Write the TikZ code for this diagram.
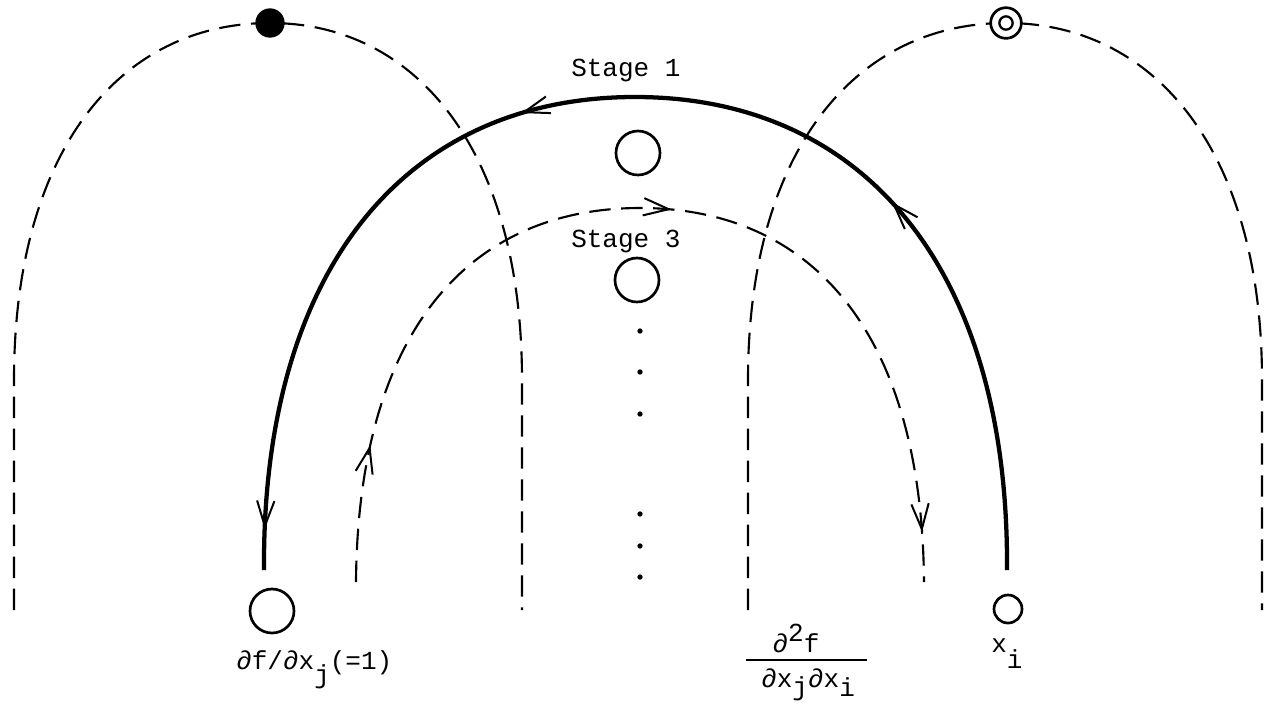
\documentclass[tikz,border=0pt]{standalone}
\usepackage{fontspec}
\setmonofont{Liberation Mono}
\usetikzlibrary{arrows.meta,decorations.markings}
\begin{document}
\begin{tikzpicture}[x=0.75pt,y=-0.75pt,
  every node/.style={font=\ttfamily\fontsize{19.5}{22}\selectfont, inner sep=0pt},
  dsh/.style={line width=1.6pt, dash pattern=on 16pt off 8pt},
  heavy/.style={line width=3.2pt},
  ring/.style={circle, draw, line width=2pt, fill=white, inner sep=0pt, minimum size=#1},
  dotpt/.style={circle, fill=black, inner sep=0pt, minimum size=4pt},
  >={Straight Barb[length=19pt,width=13pt,line width=1.5pt]}
]
\fill[white] (0,0) rectangle (1264,708);
\useasboundingbox (0,0) rectangle (1264,708);

% positions of the top markers
\coordinate (top1) at (270,23);
\coordinate (top2) at (1006,23);

% free ends of dashed arches
\coordinate (a1) at (14,610);   \coordinate (a1u) at (14,380);
\coordinate (a2u) at (522,380); \coordinate (a2) at (522,610);
\coordinate (b1) at (748,610);  \coordinate (b1u) at (748,380);
\coordinate (b2u) at (1262,380);\coordinate (b2) at (1262,610);

\draw[dsh] (a1) -- (a1u) .. controls (14,150) and (120,23) .. (top1)
   .. controls (416,23) and (522,150) .. (a2u) -- (a2);
\draw[dsh] (b1) -- (b1u) .. controls (748,150) and (856,23) .. (top2)
   .. controls (1154,23) and (1262,150) .. (b2u) -- (b2);

\node[circle, fill=black, inner sep=0pt, minimum size=22pt] (dot1) at (top1) {};
\node[ring=23pt] (dot2) at (top2) {};
\node[ring=10pt, line width=1.7pt] (dot2in) at (top2) {};

% circles
\node[ring=33pt] (c1) at (638,153) {};
\node[ring=33pt] (c3) at (637,280) {};
\node[ring=33pt] (cj) at (272,611) {};
\node[ring=21pt] (ci) at (1008,609) {};

% vertical dots
\foreach \y [count=\k] in {331,372,414,514,546,577}
  \node[dotpt] (d\k) at (640,\y) {};

% labels
\node[anchor=base west] (s1) at (571,76) {Stage 1};
\node[anchor=base west] (s3) at (571,247) {Stage 3};
\node[anchor=base west] (lj) at (236,669) {∂f/∂x\raisebox{-11pt}{j}(=1)};
\node[anchor=base] (num) at (796,652) {∂\raisebox{8pt}{2}f};
\node[anchor=base west] (den) at (761,687) {∂x\raisebox{-6pt}{j}∂x\raisebox{-7pt}{i}};
\draw[line width=1.3pt] (746,660) -- (867,660);
\node[anchor=base west] (lxi) at (991,652) {x\raisebox{-12pt}{i}};

% thick stage-1 path
\coordinate (tR) at (1007,570);
\coordinate (tL) at (264,570);
\draw[heavy, postaction={decorate}, decoration={markings,
   mark=at position 0.29 with {\arrow{>}},
   mark=at position 0.585 with {\arrow{>}},
   mark=at position 0.97 with {\arrow{>}}}]
  (tR) .. controls (1009,270) and (865,97) .. (635,97)
       .. controls (405,97) and (262,270) .. (tL);

% dashed stage-3 path
\coordinate (mL) at (356,582);
\coordinate (mR) at (924,582);
\draw[dsh, postaction={decorate}, decoration={markings,
   mark=at position 0.13 with {\arrow{>}},
   mark=at position 0.53 with {\arrow{>}},
   mark=at position 0.953 with {\arrow{>}}}]
  (mL) .. controls (358,330) and (470,208) .. (640,208)
       .. controls (810,208) and (922,330) .. (mR);
\end{tikzpicture}
\end{document}
